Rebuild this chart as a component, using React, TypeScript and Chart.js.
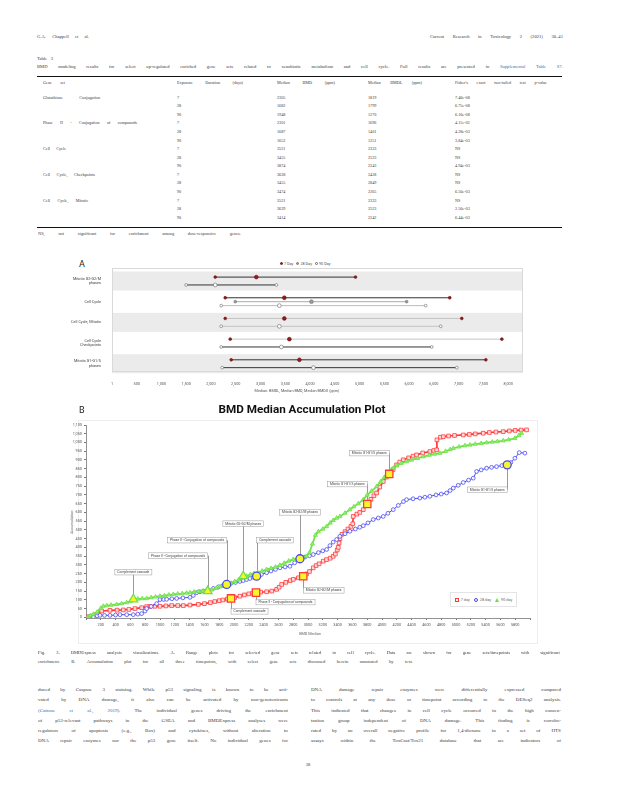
import React, { useEffect, useRef } from "react";
import { Chart, registerables } from "chart.js";
Chart.register(...registerables);

// ---------------- Page text ----------------
const headerLeft = "G.A. Chappell et al.";
const headerRight = "Current Research in Toxicology 2 (2021) 30–41";
const tableLabel = "Table 3";
const tableTitle =
  "BMD modeling results for select up-regulated enriched gene sets related to xenobiotic metabolism and cell cycle. Full results are presented in ~Supplemental ~Table ~S7.";
const tableHeaders = [
  "Gene set",
  "Exposure Duration (days)",
  "Median BMD (ppm)",
  "Median BMDL (ppm)",
  "Fisher's exact two-tailed test p-value",
];
const tableGeneSets = [
  "Glutathione Conjugation", "", "",
  "Phase II - Conjugation of compounds", "", "",
  "Cell Cycle", "", "",
  "Cell Cycle, Checkpoints", "", "",
  "Cell Cycle, Mitotic", "", "",
];
const tableDurations = ["7", "28", "90", "7", "28", "90", "7", "28", "90", "7", "28", "90", "7", "28", "90"];
const tableBMD = ["2305", "1682", "1948", "2301", "1687", "1652", "3521", "3455", "3874", "3628", "3455", "3474", "3521", "3639", "3414"];
const tableBMDL = ["1819", "1799", "1270", "1696", "1401", "1251", "2333", "2523", "2243", "2428", "2849", "2265", "2333", "2523", "2242"];
const tableP = ["7.46e-08", "6.75e-08", "6.16e-08", "4.11e-03", "4.28e-03", "3.84e-03", "NS", "NS", "4.94e-03", "NS", "NS", "6.56e-03", "NS", "2.56e-03", "6.44e-03"];
const tableFootnote = "NS, not significant for enrichment among dose-responsive genes.";

const captionLines = [
  "Fig. 3. BMDExpress analysis visualizations. A. Range plots for selected gene sets related to cell cycle. Data are shown for gene sets/timepoints with significant",
  "enrichment. B. Accumulation plot for all three timepoints, with select gene sets discussed herein annotated by text.",
];
const bodyLeft = [
  "duced by Caspase 3 staining. While p53 signaling is known to be acti-",
  "vated by DNA damage, it also can be activated by non-genotoxicants",
  "~(Cattone ~et ~al., ~2019). The individual genes driving the enrichment",
  "of p53-relevant pathways in the GSEA and BMDExpress analyses were",
  "regulators of apoptosis (e.g., Bax) and cytokines, without alteration to",
  "DNA repair enzymes nor the p53 gene itself. No individual genes for",
];
const bodyRight = [
  "DNA damage repair enzymes were differentially expressed compared",
  "to controls at any dose or timepoint according to the DESeq2 analysis.",
  "This indicated that changes in cell cycle occurred in the high concen-",
  "tration group independent of DNA damage. This finding is corrobo-",
  "rated by an overall negative profile for 1,4-dioxane in a set of HTS",
  "assays within the ToxCast/Tox21 database that are indicators of",
];
const pageNumber = "38";

// ---------------- Figure A (range plot) ----------------
const rangeGeneSets = [
  ["Mitotic G2-G2/M", "phases"],
  ["Cell Cycle"],
  ["Cell Cycle, Mitotic"],
  ["Cell Cycle", "Checkpoints"],
  ["Mitotic G1-G1/S", "phases"],
];
const rangeTimepoints = ["7 Day", "28 Day", "90 Day"];
const rangeRow = [0, 0, 1, 1, 1, 2, 2, 3, 3, 4, 4];
const rangeTime = [0, 2, 0, 1, 2, 0, 2, 0, 2, 0, 2];
const rangeLower = [2085, 1498, 2287, 2490, 2206, 2287, 2206, 2388, 2206, 2408, 2226];
const rangeMedian = [2915, 2085, 3481, 4028, 3380, 3481, 3380, 3582, 3421, 3785, 4068];
const rangeUpper = [4918, 3320, 6821, 5951, 6335, 7064, 6639, 7873, 6457, 7550, 6963];
const rangeTicks = [1, 500, 1000, 1500, 2000, 2500, 3000, 3500, 4000, 4500, 5000, 5500, 6000, 6500, 7000, 7500, 8000];
const rangeAxisTitle = "Median: BMDL, Median BMD, Median BMDU (ppm)";

// ---------------- Figure B (accumulation plot) ----------------
const day7X = [30, 77, 144, 212, 324, 420, 504, 580, 662, 752, 820, 865, 930, 1000, 1080, 1158, 1240, 1315, 1405, 1518, 1600, 1680, 1740, 1800, 1850, 1910, 1960, 2010, 2080, 2140, 2200, 2250, 2297, 2360, 2441, 2510, 2576, 2610, 2644, 2700, 2760, 2801, 2870, 2936, 2980, 3020, 3071, 3110, 3150, 3206, 3250, 3300, 3341, 3370, 3395, 3409, 3420, 3431, 3460, 3500, 3540, 3580, 3605, 3611, 3660, 3700, 3747, 3801, 3850, 3890, 3927, 3970, 4017, 4060, 4098, 4150, 4197, 4240, 4287, 4360, 4420, 4467, 4550, 4647, 4700, 4738, 4742, 4790, 4828, 4900, 4980, 5098, 5180, 5260, 5368, 5450, 5540, 5638, 5720, 5800, 5880, 5953];
const day7Y = [3, 7, 17, 36, 40, 41, 42, 45, 50, 55, 61, 62, 63, 63, 65, 67, 67, 67, 70, 74, 78, 84, 90, 95, 99, 104, 108, 113, 121, 128, 134, 138, 141, 144, 146, 150, 160, 172, 188, 200, 210, 217, 226, 235, 248, 262, 283, 296, 306, 321, 330, 338, 349, 362, 385, 400, 425, 450, 475, 490, 505, 520, 535, 577, 590, 600, 616, 648, 675, 695, 711, 745, 777, 802, 820, 845, 872, 888, 901, 912, 922, 929, 940, 948, 954, 958, 1015, 1030, 1033, 1037, 1040, 1043, 1046, 1049, 1053, 1057, 1060, 1062, 1066, 1069, 1071, 1072];

const day28X = [40, 99, 150, 189, 250, 324, 400, 459, 550, 639, 700, 752, 797, 820, 880, 955, 1000, 1050, 1090, 1160, 1225, 1310, 1405, 1450, 1495, 1540, 1585, 1650, 1720, 1790, 1850, 1901, 1960, 2020, 2080, 2125, 2170, 2216, 2260, 2306, 2370, 2441, 2500, 2560, 2621, 2690, 2756, 2820, 2891, 2960, 3020, 3071, 3140, 3200, 3252, 3296, 3340, 3387, 3431, 3500, 3566, 3640, 3700, 3747, 3810, 3882, 3950, 4017, 4080, 4152, 4220, 4290, 4332, 4420, 4512, 4580, 4647, 4730, 4800, 4873, 4920, 4963, 5030, 5098, 5170, 5233, 5278, 5340, 5413, 5480, 5548, 5620, 5692, 5740, 5796, 5855, 5931];
const day28Y = [0, 2, 8, 11, 11, 11, 13, 15, 15, 15, 18, 21, 36, 50, 62, 78, 101, 102, 103, 106, 108, 111, 114, 125, 141, 146, 150, 157, 165, 174, 182, 188, 194, 199, 205, 210, 216, 222, 229, 235, 245, 255, 265, 274, 283, 288, 292, 312, 335, 345, 352, 359, 370, 380, 388, 410, 430, 445, 463, 478, 492, 505, 515, 524, 540, 559, 568, 577, 595, 616, 640, 662, 673, 678, 682, 687, 692, 700, 705, 711, 725, 739, 755, 771, 785, 796, 834, 843, 853, 858, 862, 868, 872, 885, 910, 942, 939];

const day90X = [30, 60, 100, 150, 200, 234, 280, 340, 414, 480, 549, 600, 640, 700, 760, 820, 880, 940, 1000, 1060, 1120, 1180, 1240, 1300, 1360, 1405, 1460, 1520, 1580, 1644, 1700, 1760, 1810, 1860, 1910, 1960, 2010, 2060, 2125, 2170, 2220, 2270, 2320, 2380, 2440, 2500, 2560, 2620, 2680, 2740, 2800, 2860, 2920, 2982, 3020, 3060, 3100, 3140, 3200, 3252, 3300, 3340, 3387, 3431, 3500, 3566, 3620, 3680, 3747, 3800, 3860, 3927, 3980, 4030, 4062, 4110, 4152, 4200, 4260, 4332, 4400, 4480, 4557, 4640, 4710, 4782, 4860, 4920, 4963, 5040, 5120, 5188, 5260, 5340, 5413, 5490, 5560, 5638, 5710, 5796, 5850, 5886];
const day90Y = [3, 10, 18, 30, 52, 64, 67, 70, 74, 78, 84, 92, 103, 105, 107, 108, 113, 117, 121, 124, 128, 131, 134, 136, 139, 141, 145, 148, 150, 150, 157, 166, 175, 183, 189, 196, 205, 214, 235, 236, 244, 251, 256, 265, 274, 280, 288, 298, 310, 322, 331, 338, 342, 349, 370, 420, 470, 490, 505, 520, 540, 555, 568, 577, 596, 616, 633, 650, 673, 700, 722, 748, 775, 800, 815, 838, 853, 868, 880, 891, 900, 910, 919, 928, 934, 939, 950, 960, 967, 975, 982, 986, 991, 995, 999, 1003, 1006, 1010, 1016, 1024, 1040, 1053];

const seriesNames = ["7 day", "28 day", "90 day"];
// annotated gene sets: series index, BMD median, accumulation, text, label level
const annSeries = [2, 2, 1, 2, 1, 1, 0, 0, 0, 0, 0, 1];
const annX = [640, 1644, 1901, 2125, 2306, 2891, 1960, 2297, 2936, 3801, 4098, 5692];
const annY = [103, 150, 188, 235, 235, 335, 108, 141, 235, 648, 820, 872];
const annText = [
  "Complement cascade",
  "Phase II - Conjugation of compounds",
  "Phase II - Conjugation of compounds",
  "Mitotic G2-G2/M phases",
  "Complement cascade",
  "Mitotic G2-G2/M phases",
  "Complement cascade",
  "Phase II - Conjugation of compounds",
  "Mitotic G2-G2/M phases",
  "Mitotic G1-G1/S phases",
  "Mitotic G1-G1/S phases",
  "Mitotic G1-G1/S phases",
];
const annLabelLevel = [258, 353, 441, 536, 441, 600, 34, 87, 154, 762, 939, 730];
const accTitle = "BMD Median Accumulation Plot";
const accXTitle = "BMD Median";
const accYTitle = "Accumulation";

// ---------------- styles ----------------
const SERIF = '"Liberation Serif", "Times New Roman", serif';
const SANS = 'Roboto, "Liberation Sans", sans-serif';
const TXT = "#3a3a3a";
const LINK = "#2f6fb8";
const seriesColor = ["#ff3838", "#4a4af5", "#6ee048"];
const seriesFill = ["rgba(255,230,230,0.9)", "rgba(255,255,255,0.9)", "rgba(150,240,120,0.9)"];
const seriesStyle = ["rect", "circle", "triangle"];
const seriesRadius = [2.6, 1.9, 2.4];
const seriesWidth = [1.7, 1.0, 1.7];
const hiRadius = [5.2, 4.0, 5.0];
const annAnchor = ["center", "right", "right", "center", "left", "center", "left", "left", "left", "right", "right", "right"];
const tpFill = ["#8e1c1c", "#9a9a9a", "#ffffff"];
const tpStroke = ["#6e1010", "#777777", "#666666"];
const rangeLineShade = ["#333", "#333", "#333", "#aaa", "#bbb", "#c4c4c4", "#c4c4c4", "#c4c4c4", "#333", "#333", "#333"];

function Line({ x, y, w, size, text, color = TXT, spread = true, family = SERIF, bold = false }: any) {
  const words = text.split(" ");
  return (
    <div
      style={{
        position: "absolute",
        left: x,
        top: y - size * 0.55,
        width: w,
        display: "flex",
        justifyContent: spread && words.length > 1 ? "space-between" : "flex-start",
        gap: spread ? 0 : size * 0.3,
        fontSize: size,
        lineHeight: 1.1 + "",
        fontFamily: family,
        fontWeight: bold ? 700 : 400,
        color,
        whiteSpace: "nowrap",
      }}
    >
      {words.map((t: string, i: number) =>
        t.startsWith("~") ? (
          <span key={i} style={{ color: LINK }}>{t.slice(1)}</span>
        ) : (
          <span key={i}>{t}</span>
        )
      )}
    </div>
  );
}

function RangeChart() {
  const ref = useRef<HTMLCanvasElement>(null);
  useEffect(() => {
    const datasets = rangeLower.map((lo, i) => {
      const row = rangeRow[i];
      const inRow = rangeRow.filter((r) => r === row).length;
      const k = rangeRow.slice(0, i).filter((r) => r === row).length;
      const y = inRow > 1 ? row - 0.19 + (k * 0.38) / (inRow - 1) : row;
      const tp = rangeTime[i];
      return {
        label: rangeTimepoints[tp],
        data: [
          { x: lo, y },
          { x: rangeMedian[i], y },
          { x: rangeUpper[i], y },
        ],
        showLine: true,
        borderColor: rangeLineShade[i],
        borderWidth: 1,
        pointStyle: "circle",
        pointRadius: [1.4, 1.9, 1.4],
        pointBackgroundColor: tpFill[tp],
        pointBorderColor: tpStroke[tp],
        pointBorderWidth: 0.6,
      };
    });
    const bands = {
      id: "bands",
      beforeDatasetsDraw(chart: any) {
        const { ctx, chartArea: a, scales } = chart;
        const ys = scales.y;
        ctx.save();
        rangeGeneSets.forEach((_, i) => {
          if (i % 2 === 0) {
            const t = ys.getPixelForValue(i - 0.46);
            const b = ys.getPixelForValue(i + 0.46);
            ctx.fillStyle = "#ebebeb";
            ctx.fillRect(a.left, t, a.right - a.left, b - t);
          }
        });
        ctx.strokeStyle = "#d9d9d9";
        ctx.lineWidth = 1;
        ctx.strokeRect(a.left + 0.5, a.top + 0.5, a.right - a.left - 1, a.bottom - a.top - 1);
        ctx.restore();
      },
    };
    const chart = new Chart(ref.current as HTMLCanvasElement, {
      type: "scatter",
      data: { datasets } as any,
      plugins: [bands],
      options: {
        animation: false,
        responsive: false,
        maintainAspectRatio: false,
        layout: { padding: { top: 12, right: 7, left: 0, bottom: 0 } },
        plugins: { legend: { display: false }, tooltip: { enabled: false } },
        scales: {
          x: {
            type: "linear",
            min: 1,
            max: 8300,
            afterBuildTicks: (s: any) => {
              s.ticks = rangeTicks.map((v) => ({ value: v }));
            },
            afterFit: (s: any) => {
              s.height = 24;
            },
            ticks: {
              autoSkip: false,
              maxRotation: 0,
              padding: 2,
              color: "#555",
              font: { size: 3.8, family: SANS },
              callback: (v: any) => Number(v).toLocaleString("en-US"),
            },
            grid: { display: false },
            border: { display: false },
          },
          y: {
            type: "linear",
            reverse: true,
            min: -0.63,
            max: 4.4,
            afterBuildTicks: (s: any) => {
              s.ticks = rangeGeneSets.map((_, i) => ({ value: i }));
            },
            afterFit: (s: any) => {
              s.width = 52;
            },
            ticks: {
              autoSkip: false,
              padding: 3,
              color: "#444",
              font: { size: 3.8, family: SANS, lineHeight: 1.3 },
              callback: (v: any) => rangeGeneSets[Math.round(Number(v))],
            },
            grid: { display: false },
            border: { display: false },
          },
        },
      } as any,
    });
    return () => chart.destroy();
  }, []);
  return (
    <canvas
      ref={ref}
      width={470}
      height={140}
      style={{ position: "absolute", left: 60, top: 256, width: 470, height: 140 }}
    />
  );
}

function AccumulationChart() {
  const ref = useRef<HTMLCanvasElement>(null);
  useEffect(() => {
    const xs = [day7X, day28X, day90X];
    const ys = [day7Y, day28Y, day90Y];
    const main = xs.map((xArr, s) => ({
      label: seriesNames[s],
      data: xArr.map((x, i) => ({ x, y: ys[s][i] })),
      showLine: true,
      borderColor: seriesColor[s],
      borderWidth: seriesWidth[s],
      pointStyle: seriesStyle[s],
      pointRadius: seriesRadius[s],
      pointBorderWidth: 0.8,
      pointBorderColor: seriesColor[s],
      pointBackgroundColor: seriesFill[s],
      order: 3 - s,
    }));
    const hi = [0, 1, 2].map((s) => ({
      label: seriesNames[s] + " highlighted",
      data: annX
        .map((x, i) => ({ x, y: annY[i], s: annSeries[i] }))
        .filter((p) => p.s === s)
        .map((p) => ({ x: p.x, y: p.y })),
      showLine: false,
      pointStyle: seriesStyle[s],
      pointRadius: hiRadius[s],
      pointBorderWidth: 1.3,
      pointBorderColor: seriesColor[s],
      pointBackgroundColor: "#f6f628",
      order: 0,
    }));
    const ann = {
      id: "ann",
      beforeDatasetsDraw(chart: any) {
        const { ctx, scales } = chart;
        ctx.save();
        ctx.strokeStyle = "#555";
        ctx.lineWidth = 0.6;
        annX.forEach((xv, i) => {
          const px = scales.x.getPixelForValue(xv);
          const py = scales.y.getPixelForValue(annY[i]);
          const ly = scales.y.getPixelForValue(annLabelLevel[i]);
          ctx.beginPath();
          ctx.moveTo(Math.round(px) + 0.5, py);
          ctx.lineTo(Math.round(px) + 0.5, ly);
          ctx.stroke();
        });
        ctx.restore();
      },
      afterDatasetsDraw(chart: any) {
        const { ctx, scales } = chart;
        ctx.save();
        ctx.font = `3.3px ${SANS}`;
        ctx.textBaseline = "middle";
        annX.forEach((xv, i) => {
          const px = scales.x.getPixelForValue(xv);
          const ly = scales.y.getPixelForValue(annLabelLevel[i]);
          const tw = ctx.measureText(annText[i]).width;
          const bw = tw + 5;
          const bh = 5.5;
          let bx = px - bw / 2;
          if (annAnchor[i] === "right") bx = px - bw;
          if (annAnchor[i] === "left") bx = px;
          const by = ly - bh / 2;
          ctx.fillStyle = "rgba(255,255,255,0.95)";
          ctx.fillRect(bx, by, bw, bh);
          ctx.strokeStyle = "#9a9a9a";
          ctx.lineWidth = 0.5;
          ctx.strokeRect(bx, by, bw, bh);
          ctx.fillStyle = "#444";
          ctx.fillText(annText[i], bx + 2.5, ly + 0.2);
        });
        ctx.restore();
      },
    };
    const chart = new Chart(ref.current as HTMLCanvasElement, {
      type: "scatter",
      data: { datasets: [...main, ...hi] } as any,
      plugins: [ann],
      options: {
        animation: false,
        responsive: false,
        maintainAspectRatio: false,
        layout: { padding: { top: 27, right: 10, left: 0, bottom: 0 } },
        plugins: { legend: { display: false }, tooltip: { enabled: false } },
        scales: {
          x: {
            type: "linear",
            min: 0,
            max: 6000,
            afterBuildTicks: (s: any) => {
              const t = [];
              for (let v = 0; v <= 6000; v += 200) t.push({ value: v });
              s.ticks = t;
            },
            afterFit: (s: any) => {
              s.height = 30;
            },
            ticks: {
              autoSkip: false,
              maxRotation: 0,
              padding: 3,
              color: "#555",
              font: { size: 3.8, family: SANS },
              callback: (v: any) => (v === 0 || v === 6000 ? "" : String(v)),
            },
            grid: { drawOnChartArea: false, drawTicks: true, tickLength: 2, color: "#777" },
            border: { display: true, color: "#777", width: 0.8 },
          },
          y: {
            type: "linear",
            min: -4,
            max: 1100,
            afterBuildTicks: (s: any) => {
              const t = [];
              for (let v = 0; v <= 1100; v += 50) t.push({ value: v });
              s.ticks = t;
            },
            afterFit: (s: any) => {
              s.width = 26;
            },
            ticks: {
              autoSkip: false,
              padding: 2,
              color: "#555",
              font: { size: 3.8, family: SANS },
            },
            grid: { drawOnChartArea: false, drawTicks: true, tickLength: 2, color: "#777" },
            border: { display: true, color: "#777", width: 0.8 },
          },
        },
      } as any,
    });
    return () => chart.destroy();
  }, []);
  return (
    <canvas
      ref={ref}
      width={480}
      height={250}
      style={{ position: "absolute", left: 60, top: 398, width: 480, height: 250 }}
    />
  );
}

function Marker({ shape, color, fill }: any) {
  if (shape === "triangle") {
    return (
      <span
        style={{
          display: "inline-block",
          width: 0,
          height: 0,
          borderLeft: "2.2px solid transparent",
          borderRight: "2.2px solid transparent",
          borderBottom: `4px solid ${color}`,
          marginRight: 2,
        }}
      />
    );
  }
  return (
    <span
      style={{
        display: "inline-block",
        width: 4,
        height: 4,
        boxSizing: "border-box",
        border: `0.8px solid ${color}`,
        background: fill,
        borderRadius: shape === "circle" ? "50%" : 0,
        marginRight: 2,
      }}
    />
  );
}

export default function App() {
  const rowTop = 98;
  const rowPitch = 8.57;
  const geneSetWidths: Record<string, number> = {
    "Glutathione Conjugation": 57,
    "Phase II - Conjugation of compounds": 94,
    "Cell Cycle": 23,
    "Cell Cycle, Checkpoints": 52,
    "Cell Cycle, Mitotic": 45,
  };
  const headerX = [43, 177, 277, 368, 455];
  const headerW = [22, 66, 58, 54, 92];
  return (
    <div
      style={{
        position: "absolute",
        left: 0,
        top: 0,
        width: 618,
        height: 800,
        background: "#fff",
        overflow: "hidden",
      }}
    >
      <Line x={37} y={37} w={52} size={4.6} text={headerLeft} />
      <Line x={430} y={37} w={133} size={4.6} text={headerRight} />
      <Line x={37} y={59} w={16} size={4.6} text={tableLabel} />
      <Line x={37} y={67} w={526} size={4.6} text={tableTitle} />
      <div style={{ position: "absolute", left: 37, top: 76, width: 525, height: 0.8, background: "#111" }} />
      {tableHeaders.map((h, i) => (
        <Line key={h} x={headerX[i]} y={83} w={headerW[i]} size={4.2} text={h} />
      ))}
      {tableGeneSets.map((g, i) => (
        <React.Fragment key={i}>
          {g && <Line x={43} y={rowTop + i * rowPitch} w={geneSetWidths[g]} size={4.2} text={g} />}
          <Line x={177} y={rowTop + i * rowPitch} w={10} size={4.2} text={tableDurations[i]} spread={false} />
          <Line x={277} y={rowTop + i * rowPitch} w={20} size={4.2} text={tableBMD[i]} spread={false} />
          <Line x={368} y={rowTop + i * rowPitch} w={20} size={4.2} text={tableBMDL[i]} spread={false} />
          <Line x={455} y={rowTop + i * rowPitch} w={30} size={4.2} text={tableP[i]} spread={false} />
        </React.Fragment>
      ))}
      <div style={{ position: "absolute", left: 37, top: 226.5, width: 525, height: 0.8, background: "#111" }} />
      <Line x={38} y={234} w={203} size={4.4} text={tableFootnote} />

      {/* Figure A */}
      <div style={{ position: "absolute", left: 79, top: 260, fontSize: 9, fontFamily: SANS, color: "#222", lineHeight: 1 }}>A</div>
      <div
        style={{
          position: "absolute",
          left: 280,
          top: 261.5,
          fontSize: 3.8,
          fontFamily: SANS,
          color: "#555",
          lineHeight: 1,
          display: "flex",
          alignItems: "center",
          gap: 3,
          whiteSpace: "nowrap",
        }}
      >
        {rangeTimepoints.map((t, i) => (
          <span key={t} style={{ display: "flex", alignItems: "center" }}>
            <span
              style={{
                display: "inline-block",
                width: 3,
                height: 3,
                borderRadius: "50%",
                boxSizing: "border-box",
                background: tpFill[i],
                border: `0.6px solid ${tpStroke[i]}`,
                marginRight: 1,
              }}
            />
            {t}
          </span>
        ))}
      </div>
      <RangeChart />
      <div
        style={{
          position: "absolute",
          left: 217,
          width: 160,
          top: 388.5,
          textAlign: "center",
          fontSize: 3.8,
          fontFamily: SANS,
          color: "#555",
          lineHeight: 1,
        }}
      >
        {rangeAxisTitle}
      </div>

      {/* Figure B */}
      <div style={{ position: "absolute", left: 78, top: 420, width: 458, height: 222, border: "0.6px solid #eeeeee" }} />
      <div style={{ position: "absolute", left: 79, top: 406, fontSize: 9, fontFamily: SANS, color: "#222", lineHeight: 1 }}>B</div>
      <div
        style={{
          position: "absolute",
          left: 152,
          width: 300,
          top: 403.5,
          textAlign: "center",
          fontSize: 11.7,
          fontWeight: 700,
          fontFamily: SANS,
          color: "#111",
          lineHeight: 1,
        }}
      >
        {accTitle}
      </div>
      <AccumulationChart />
      <div
        style={{
          position: "absolute",
          left: 72,
          top: 522,
          transform: "translate(-50%,-50%) rotate(-90deg)",
          fontSize: 3.8,
          fontFamily: SANS,
          color: "#666",
          whiteSpace: "nowrap",
          lineHeight: 1,
        }}
      >
        {accYTitle}
      </div>
      <div
        style={{
          position: "absolute",
          left: 270,
          width: 80,
          top: 632,
          textAlign: "center",
          fontSize: 3.8,
          fontFamily: SANS,
          color: "#666",
          lineHeight: 1,
        }}
      >
        {accXTitle}
      </div>
      <div
        style={{
          position: "absolute",
          left: 450,
          top: 592,
          width: 67,
          height: 15,
          boxSizing: "border-box",
          border: "0.6px solid #e4e4e4",
          background: "#fff",
          display: "flex",
          alignItems: "center",
          justifyContent: "center",
          gap: 4,
          fontSize: 3.8,
          fontFamily: SANS,
          color: "#666",
          whiteSpace: "nowrap",
        }}
      >
        {seriesNames.map((n, s) => (
          <span key={n} style={{ display: "flex", alignItems: "center" }}>
            <Marker shape={seriesStyle[s]} color={seriesColor[s]} fill="#fff" />
            {n}
          </span>
        ))}
      </div>

      {/* caption */}
      <Line x={38} y={653} w={522} size={4.6} text={captionLines[0]} />
      <Line x={38} y={662} w={375} size={4.6} text={captionLines[1]} />

      {/* body text */}
      {bodyLeft.map((t, i) => (
        <Line key={"l" + i} x={38} y={690 + i * 10.2} w={250} size={5} text={t} />
      ))}
      {bodyRight.map((t, i) => (
        <Line key={"r" + i} x={311} y={690 + i * 10.2} w={250} size={5} text={t} />
      ))}
      <div
        style={{
          position: "absolute",
          left: 300,
          width: 16,
          top: 763,
          textAlign: "center",
          fontSize: 4.6,
          fontFamily: SERIF,
          color: TXT,
          lineHeight: 1,
        }}
      >
        {pageNumber}
      </div>
    </div>
  );
}
